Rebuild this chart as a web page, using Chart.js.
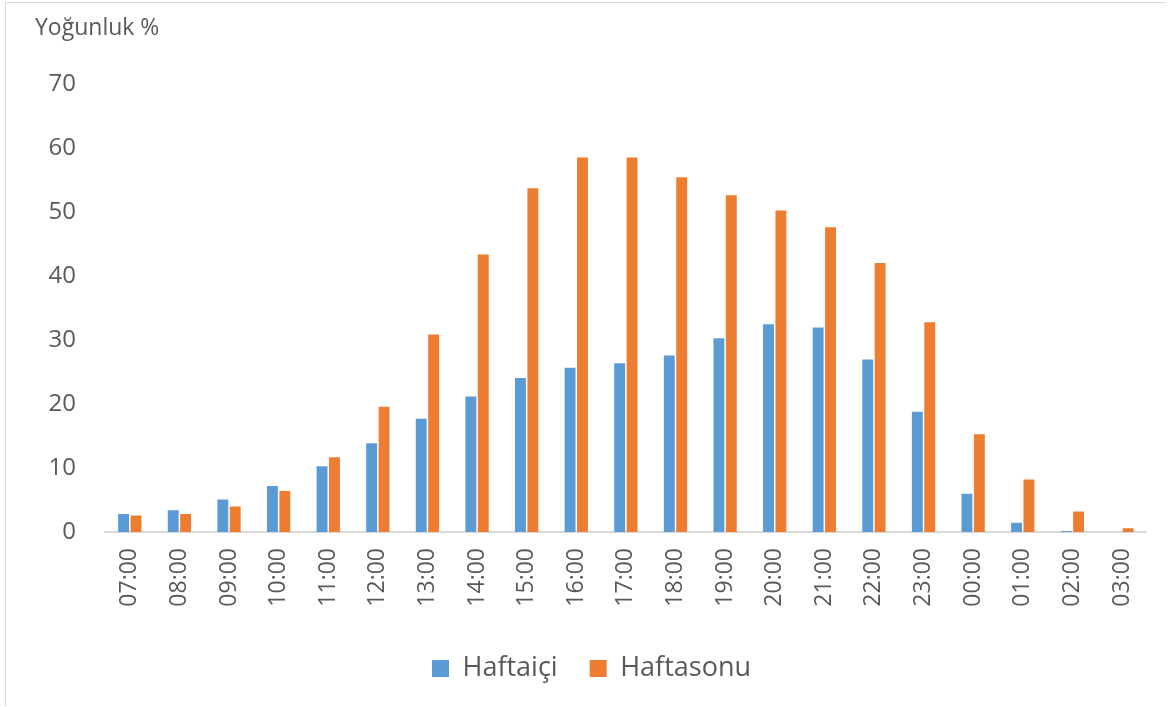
<!DOCTYPE html>
<html>
<head>
<meta charset="utf-8">
<script src="https://cdn.jsdelivr.net/npm/chart.js@4"></script>
<style>
  body { margin: 0; background: #fff; }
  #frame {
    position: absolute; left: 5px; top: 2px;
    width: 1160px; height: 703px;
    border: 1px solid #d9d9d9; border-right: none; border-bottom: none;
  }
</style>
</head>
<body>
<div id="frame"><canvas id="yogunluk"></canvas></div>
<script>
// saat dilimleri ve yoğunluk değerleri (%)
const hours = ["07:00", "08:00", "09:00", "10:00", "11:00", "12:00", "13:00", "14:00", "15:00", "16:00", "17:00",
  "18:00", "19:00", "20:00", "21:00", "22:00", "23:00", "00:00", "01:00", "02:00", "03:00"];
const haftaici = [2.8, 3.4, 5.1, 7.2, 10.3, 13.9, 17.7, 21.2, 24.1, 25.7, 26.4,
  27.6, 30.3, 32.5, 32.0, 27.0, 18.8, 6.0, 1.45, 0.15, 0];
const haftasonu = [2.6, 2.8, 4.0, 6.4, 11.7, 19.6, 30.9, 43.4, 53.8, 58.6, 58.6,
  55.5, 52.7, 50.3, 47.7, 42.1, 32.8, 15.3, 8.2, 3.2, 0.6];
const yTicks = [0, 10, 20, 30, 40, 50, 60, 70];

document.addEventListener("DOMContentLoaded", function () {
  const ctx = document.getElementById("yogunluk").getContext("2d");
  Chart.defaults.font.family = "'Open Sans', sans-serif";
  Chart.defaults.color = "#595959";

  new Chart(ctx, {
    type: "bar",
    data: {
      labels: hours,
      datasets: [
        {
          label: "Haftaiçi",
          data: haftaici,
          backgroundColor: "#5b9bd5",
        },
        {
          label: "Haftasonu",
          data: haftasonu,
          backgroundColor: "#ed7d31",
        },
      ],
    },
    options: {
      responsive: true,
      maintainAspectRatio: false,
      animation: false,
      categoryPercentage: 0.5,
      barPercentage: 0.88,
      layout: { padding: { left: 29, right: 18, top: 0, bottom: 14 } },
      plugins: {
        title: {
          display: true,
          text: "Yoğunluk %",
          align: "start",
          color: "#595959",
          font: { size: 23, weight: "normal" },
          padding: { top: 12, bottom: 42 },
        },
        legend: {
          position: "bottom",
          labels: {
            boxWidth: 17,
            boxHeight: 17,
            padding: 32,
            color: "#595959",
            font: { size: 27 },
          },
        },
        tooltip: { enabled: false },
      },
      scales: {
        x: {
          afterFit: (axis) => {
            axis.height = 91;
          },
          grid: { display: false, drawTicks: false },
          border: { color: "#d9d9d9", width: 2 },
          ticks: {
            minRotation: 90,
            maxRotation: 90,
            padding: 16,
            color: "#595959",
            font: { size: 23 },
          },
        },
        y: {
          min: 0,
          max: 70,
          afterBuildTicks: (axis) => {
            axis.ticks = yTicks.map((v) => ({ value: v }));
          },
          afterFit: (axis) => {
            axis.width = 70;
          },
          grid: { display: false, drawTicks: false },
          border: { display: false },
          ticks: {
            padding: 29,
            color: "#595959",
            font: { size: 24 },
          },
        },
      },
    },
  });
});
</script>
</body>
</html>
